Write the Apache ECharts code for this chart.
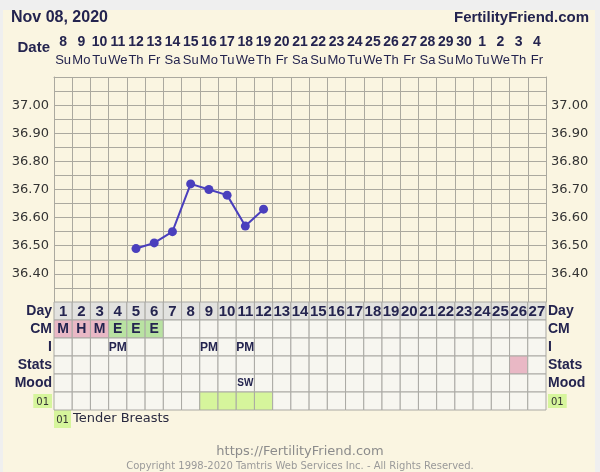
<!DOCTYPE html>
<html>
<head>
<meta charset="utf-8">
<script src="https://cdn.jsdelivr.net/npm/echarts@6/dist/echarts.min.js"></script>
<style>
  html, body { margin: 0; padding: 0; background: #efefef; }
  #chart { width: 600px; height: 472px; }
</style>
</head>
<body>
<div id="chart"></div>
<script>
// ---- data ----
const chartDate = 'Nov 08, 2020';
const siteName = 'FertilityFriend.com';
const dateNums = ['8','9','10','11','12','13','14','15','16','17','18','19','20','21','22','23','24','25','26','27','28','29','30','1','2','3','4'];
const weekdays = ['Su','Mo','Tu','We','Th','Fr','Sa','Su','Mo','Tu','We','Th','Fr','Sa','Su','Mo','Tu','We','Th','Fr','Sa','Su','Mo','Tu','We','Th','Fr'];
const cycleDays = ['1','2','3','4','5','6','7','8','9','10','11','12','13','14','15','16','17','18','19','20','21','22','23','24','25','26','27'];
const temps = [null,null,null,null,36.49,36.51,36.55,36.72,36.70,36.68,36.57,36.63,null,null,null,null,null,null,null,null,null,null,null,null,null,null,null];
const tempMin = 36.30, tempMax = 37.10, tempStep = 0.05;
const tempLabelLow = 36.40, tempLabelHigh = 37.00;
const rowLabels = ['Day','CM','I','Stats','Mood','01'];
const cmDays = [1,2,3,4,5,6];
const cmCodes = ['M','H','M','E','E','E'];
const intercourseDays = [4,9,11];
const intercourseCodes = ['PM','PM','PM'];
const statsDays = [26];
const moodDays = [11];
const moodCodes = ['SW'];
const symptomDays = [9,10,11,12];
const symptomCode = '01';
const symptomName = 'Tender Breasts';
const footerUrl = 'https://FertilityFriend.com';
const footerCopy = 'Copyright 1998-2020 Tamtris Web Services Inc. - All Rights Reserved.';

// ---- styles ----
const navy = '#24244f';
const gridColor = '#aba99f';
const cellBorder = '#aaa9a4';
const cellFill = '#f7f6f0';
const dayFill = '#e2e2df';
const pinkFill = '#e9b8c5';
const greenFill = '#b9e2a2';
const limeFill = '#d6f59c';
const lineColor = '#4a3fbd';
const panelColor = '#faf5e1';
const sansB = '"Liberation Sans", Arial, sans-serif';

// build table cells
const cmColor = { M: pinkFill, H: pinkFill, E: greenFill };
const cells = [];
for (let i = 0; i < cycleDays.length; i++) {
  const d = i + 1;
  cells.push({ x: i, y: 0, text: cycleDays[i], fill: dayFill, size: 15 });
  const ci = cmDays.indexOf(d);
  cells.push({ x: i, y: 1, text: ci >= 0 ? cmCodes[ci] : '', fill: ci >= 0 ? cmColor[cmCodes[ci]] : cellFill, size: 14 });
  const ii = intercourseDays.indexOf(d);
  cells.push({ x: i, y: 2, text: ii >= 0 ? intercourseCodes[ii] : '', fill: cellFill, size: 12 });
  cells.push({ x: i, y: 3, text: '', fill: statsDays.indexOf(d) >= 0 ? pinkFill : cellFill, size: 11 });
  const mi = moodDays.indexOf(d);
  cells.push({ x: i, y: 4, text: mi >= 0 ? moodCodes[mi] : '', fill: cellFill, size: 10 });
  cells.push({ x: i, y: 5, text: '', fill: symptomDays.indexOf(d) >= 0 ? limeFill : cellFill, size: 11 });
}

const chart = echarts.init(document.getElementById('chart'), null, { renderer: 'canvas' });

function tempLabel(v) {
  const r = Math.round(v * 100);
  if (r % 10 !== 0) return '';
  if (v < tempLabelLow - 1e-6 || v > tempLabelHigh + 1e-6) return '';
  return (r / 100).toFixed(2);
}

const rowLabelRich = {
  b: { fontFamily: sansB, fontWeight: 'bold', fontSize: 14, color: navy },
  s: { fontFamily: '"DejaVu Sans", sans-serif', fontSize: 10, color: '#333', backgroundColor: limeFill, padding: [3, 3, 1, 3] }
};
function rowLabelFmt(v) {
  return v === symptomCode ? '{s|' + v + '}' : '{b|' + v + '}';
}

const option = {
  backgroundColor: '#efefef',
  animation: false,
  graphic: [
    { type: 'rect', z: -10, shape: { x: 3, y: 10, width: 592, height: 470 }, style: { fill: panelColor } },
    { type: 'text', left: 11, top: 10, style: { text: chartDate, fontFamily: sansB, fontWeight: 'bold', fontSize: 16, fill: navy } },
    { type: 'text', right: 11, top: 10, style: { text: siteName, fontFamily: sansB, fontWeight: 'bold', fontSize: 15, fill: navy } },
    { type: 'text', x: 50, y: 48, style: { text: 'Date', align: 'right', verticalAlign: 'middle', fontFamily: sansB, fontWeight: 'bold', fontSize: 15, fill: navy } },
    { type: 'rect', shape: { x: 54, y: 410, width: 17, height: 18 }, style: { fill: limeFill } },
    { type: 'text', x: 62.5, y: 420, style: { text: symptomCode, align: 'center', verticalAlign: 'middle', fontFamily: 'DejaVu Sans', fontSize: 10, fill: '#333' } },
    { type: 'text', x: 73, y: 419, style: { text: symptomName, verticalAlign: 'middle', fontFamily: 'DejaVu Sans', fontSize: 13, fill: '#2a2a40' } },
    { type: 'text', x: 300, y: 452, style: { text: footerUrl, align: 'center', verticalAlign: 'middle', fontFamily: 'DejaVu Sans', fontSize: 13, fill: '#8c8c8c' } },
    { type: 'text', x: 300, y: 466, style: { text: footerCopy, align: 'center', verticalAlign: 'middle', fontFamily: 'DejaVu Sans', fontSize: 10, fill: '#9a9a9a' } }
  ],
  grid: [
    { left: 54, top: 77, width: 492, height: 225 },
    { left: 54, top: 302, width: 492, height: 108 }
  ],
  xAxis: [
    {
      gridIndex: 0, type: 'category', data: cycleDays, position: 'top', boundaryGap: true,
      axisLine: { show: true, lineStyle: { color: gridColor } },
      axisTick: { show: false },
      splitLine: { show: true, interval: 0, lineStyle: { color: gridColor, width: 1 } },
      axisLabel: {
        interval: 0, margin: 8, hideOverlap: false,
        formatter: function (v, i) { return '{n|' + dateNums[i] + '}\n{w|' + weekdays[i] + '}'; },
        rich: {
          n: { fontFamily: sansB, fontWeight: 'bold', fontSize: 14, lineHeight: 18, color: navy },
          w: { fontFamily: sansB, fontSize: 13, lineHeight: 18, color: navy }
        }
      }
    },
    { gridIndex: 1, type: 'category', data: cycleDays, show: false }
  ],
  yAxis: [
    {
      gridIndex: 0, type: 'value', min: tempMin, max: tempMax, interval: tempStep, position: 'left',
      axisLine: { show: true, lineStyle: { color: gridColor } }, axisTick: { show: false },
      splitLine: { show: true, lineStyle: { color: gridColor, width: 1 } },
      axisLabel: { formatter: tempLabel, margin: 5, fontFamily: 'DejaVu Sans', fontSize: 13, color: '#333' }
    },
    {
      gridIndex: 0, type: 'value', min: tempMin, max: tempMax, interval: tempStep, position: 'right',
      axisLine: { show: true, lineStyle: { color: gridColor } }, axisTick: { show: false },
      splitLine: { show: false },
      axisLabel: { formatter: tempLabel, margin: 5, fontFamily: 'DejaVu Sans', fontSize: 13, color: '#333' }
    },
    {
      gridIndex: 1, type: 'category', data: rowLabels, inverse: true, position: 'left',
      axisLine: { show: false }, axisTick: { show: false },
      axisLabel: { margin: 2, formatter: rowLabelFmt, rich: rowLabelRich }
    },
    {
      gridIndex: 1, type: 'category', data: rowLabels, inverse: true, position: 'right',
      axisLine: { show: false }, axisTick: { show: false },
      axisLabel: { margin: 2, formatter: rowLabelFmt, rich: rowLabelRich }
    }
  ],
  series: [
    {
      type: 'line', xAxisIndex: 0, yAxisIndex: 0, data: temps, connectNulls: false,
      symbol: 'circle', symbolSize: 9, z: 5,
      lineStyle: { color: lineColor, width: 2 },
      itemStyle: { color: lineColor }
    },
    {
      type: 'custom', xAxisIndex: 1, yAxisIndex: 2,
      data: cells.map(function (c) { return [c.x, c.y]; }),
      renderItem: function (params, api) {
        const c = cells[params.dataIndex];
        const p = api.coord([api.value(0), api.value(1)]);
        const s = api.size([1, 1]);
        return {
          type: 'group',
          children: [
            { type: 'rect', shape: { x: p[0] - s[0] / 2, y: p[1] - s[1] / 2, width: s[0], height: s[1] },
              style: { fill: c.fill, stroke: cellBorder, lineWidth: 1 } },
            { type: 'text', style: { text: c.text, x: p[0], y: p[1] + 0.5, align: 'center', verticalAlign: 'middle',
              fontFamily: sansB, fontWeight: 'bold', fontSize: c.size, fill: navy } }
          ]
        };
      }
    }
  ]
};
chart.setOption(option);
</script>
</body>
</html>
